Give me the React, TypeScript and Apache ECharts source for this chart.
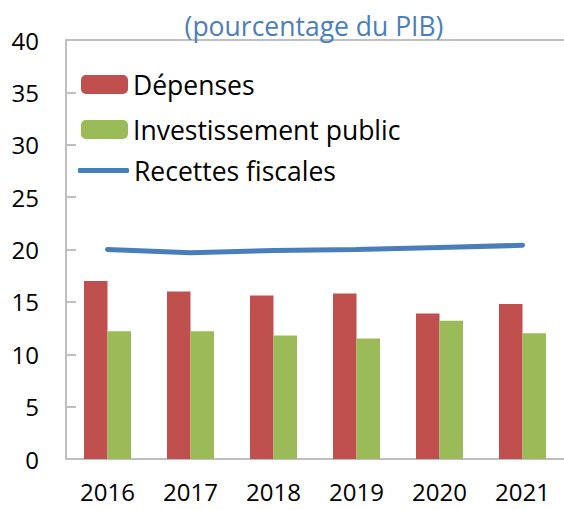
import React, { useEffect, useRef } from "react";
import * as echarts from "echarts";

const years = ["2016", "2017", "2018", "2019", "2020", "2021"];
const depenses = [17.0, 16.0, 15.6, 15.8, 13.9, 14.8];
const investissement = [12.2, 12.2, 11.8, 11.5, 13.2, 12.0];
const recettes = [20.0, 19.7, 19.9, 20.0, 20.2, 20.4];
const yTicks = { min: 0, max: 40, interval: 5 };

const FONT = "'Open Sans', 'Noto Sans', sans-serif";
const AXIS_GREY = "#bfbfbf";
const LEGEND_FONT = 26.5;

export default function App() {
  const ref = useRef<HTMLDivElement>(null);
  useEffect(() => {
    if (!ref.current) return;
    const chart = echarts.init(ref.current, undefined, { renderer: "svg" });
    chart.setOption({
      animation: false,
      backgroundColor: "#ffffff",
      title: {
        text: "(pourcentage du PIB)",
        left: 309,
        textAlign: "center",
        top: 7,
        textStyle: { fontFamily: FONT, fontSize: 26.5, fontWeight: "normal", color: "#4a7fb8" },
      },
      legend: [
        {
          orient: "vertical",
          left: 76,
          top: 66,
          padding: 5,
          itemWidth: 47,
          itemHeight: 19,
          itemGap: 18,
          textStyle: { fontFamily: FONT, fontSize: LEGEND_FONT, color: "#000", lineHeight: 25 },
          data: [{ name: "Dépenses" }, { name: "Investissement public" }],
        },
        {
          orient: "vertical",
          left: 73,
          top: 152,
          padding: 5,
          itemWidth: 51,
          itemHeight: 5,
          icon: "roundRect",
          textStyle: { fontFamily: FONT, fontSize: LEGEND_FONT, color: "#000", lineHeight: 25 },
          data: [{ name: "Recettes fiscales" }],
        },
      ],
      grid: { left: 66, right: -5, top: 40, bottom: 51, containLabel: false },
      xAxis: [
        {
          type: "category",
          data: years,
          axisLine: { lineStyle: { color: AXIS_GREY, width: 2 } },
          axisTick: { inside: true, length: 9, lineStyle: { color: AXIS_GREY, width: 2 } },
          axisLabel: { fontFamily: FONT, fontSize: 24, color: "#000", margin: 20 },
        },
        {
          type: "category",
          data: years,
          position: "top",
          axisLine: { lineStyle: { color: AXIS_GREY, width: 2 } },
          axisTick: { show: false },
          axisLabel: { show: false },
        },
      ],
      yAxis: {
        type: "value",
        min: yTicks.min,
        max: yTicks.max,
        interval: yTicks.interval,
        axisLine: { show: true, lineStyle: { color: AXIS_GREY, width: 2 } },
        axisTick: { show: true, inside: true, length: 10, lineStyle: { color: AXIS_GREY, width: 2 } },
        splitLine: { show: false },
        axisLabel: { fontFamily: FONT, fontSize: 24, color: "#000", margin: 27 },
      },
      series: [
        {
          name: "Dépenses",
          type: "bar",
          data: depenses,
          barWidth: 23.5,
          barGap: "0%",
          itemStyle: { color: "#c0504d" },
        },
        {
          name: "Investissement public",
          type: "bar",
          data: investissement,
          barWidth: 23.5,
          barGap: "0%",
          itemStyle: { color: "#9bbb59" },
        },
        {
          name: "Recettes fiscales",
          type: "line",
          data: recettes,
          symbol: "none",
          lineStyle: { color: "#4a7ebb", width: 5, cap: "round" },
          itemStyle: { color: "#4a7ebb" },
        },
      ],
    });
    return () => chart.dispose();
  }, []);
  return (
    <div
      ref={ref}
      style={{ position: "fixed", left: 0, top: 0, width: 564, height: 510 }}
    />
  );
}
